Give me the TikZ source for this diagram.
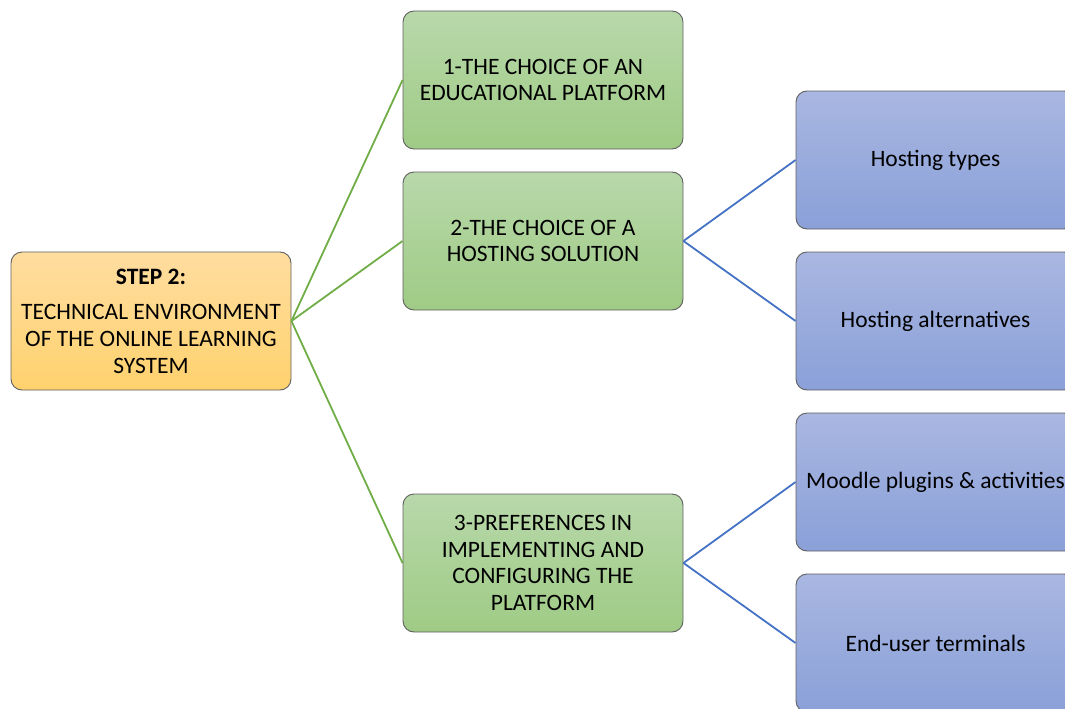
\documentclass[tikz,border=0pt]{standalone}
\usepackage{fontspec}
\setmainfont{Carlito}
\definecolor{orgtop}{HTML}{FFDDA0}
\definecolor{orgbot}{HTML}{FFD26E}
\definecolor{grntop}{HTML}{B8D8AA}
\definecolor{grnbot}{HTML}{9FCB85}
\definecolor{blutop}{HTML}{A9B7E1}
\definecolor{blubot}{HTML}{8AA0D8}
\definecolor{edgegreen}{HTML}{70AD47}
\definecolor{edgeblue}{HTML}{4472C4}
\definecolor{boxline}{HTML}{5F5F5F}
\begin{document}
\begin{tikzpicture}[x=1pt,y=-1pt,
  box/.style={draw=boxline,line width=0.9pt,rounded corners=11pt,minimum width=280pt,minimum height=138pt,
    align=center,inner sep=2pt,font=\fontsize{23.5}{26.6}\selectfont},
  rootbox/.style={box,top color=orgtop,bottom color=orgbot},
  greenbox/.style={box,top color=grntop,bottom color=grnbot},
  bluebox/.style={box,top color=blutop,bottom color=blubot,minimum width=279pt},
  gline/.style={draw=edgegreen,line width=1.8pt},
  bline/.style={draw=edgeblue,line width=1.8pt}]
\useasboundingbox (0,0) rectangle (1065,709);
\clip (0,0) rectangle (1065,709);
\node[rootbox] (root) at (151,321) {\textbf{STEP 2:}\\[9pt]TECHNICAL ENVIRONMENT\\OF THE ONLINE LEARNING\\SYSTEM};
\node[greenbox] (g1) at (543,80) {1-THE CHOICE OF AN\\EDUCATIONAL PLATFORM};
\node[greenbox] (g2) at (543,241) {2-THE CHOICE OF A\\HOSTING SOLUTION};
\node[greenbox] (g3) at (543,563) {3-PREFERENCES IN\\IMPLEMENTING AND\\CONFIGURING THE\\PLATFORM};
\node[bluebox] (b1) at (935.5,160) {Hosting types};
\node[bluebox] (b2) at (935.5,321) {Hosting alternatives};
\node[bluebox] (b3) at (935.5,482) {Moodle plugins \& activities};
\node[bluebox] (b4) at (935.5,643) {End-user terminals};
\draw[gline] (root.east) -- (g1.west);
\draw[gline] (root.east) -- (g2.west);
\draw[gline] (root.east) -- (g3.west);
\draw[bline] (g2.east) -- (b1.west);
\draw[bline] (g2.east) -- (b2.west);
\draw[bline] (g3.east) -- (b3.west);
\draw[bline] (g3.east) -- (b4.west);
\end{tikzpicture}
\end{document}
